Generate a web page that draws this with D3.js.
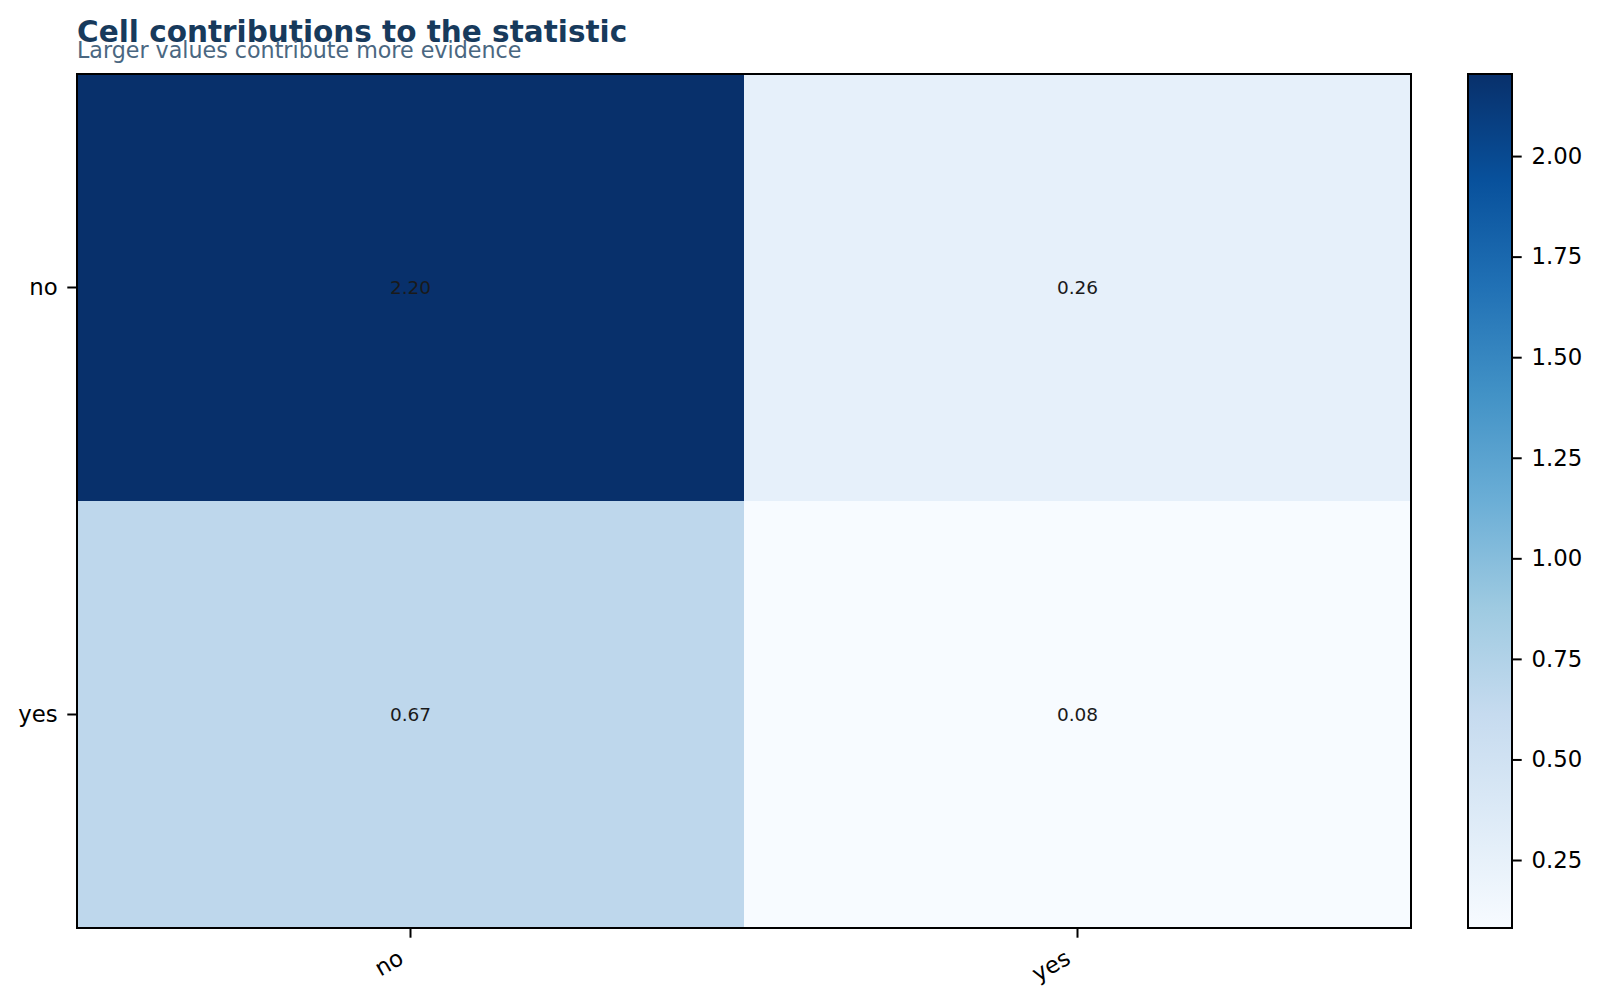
<!DOCTYPE html>
<html>
<head>
<meta charset="utf-8">
<script src="https://cdn.jsdelivr.net/npm/d3@7"></script>
<style>
  body { margin: 0; background: #fff; }
  svg { display: block; }
  text { font-family: "DejaVu Sans", sans-serif; }
</style>
</head>
<body>
<div id="chart"></div>
<script>
// data
const rowLabels = ["no", "yes"];
const colLabels = ["no", "yes"];
const cellValues = [
  [2.204, 0.262],
  [0.668, 0.081]
];
const cbarTicks = [0.25, 0.5, 0.75, 1.0, 1.25, 1.5, 1.75, 2.0];
const titleText = "Cell contributions to the statistic";
const subtitleText = "Larger values contribute more evidence";

// matplotlib "Blues" stops (ColorBrewer 9)
const bluesStops = ["#f7fbff", "#deebf7", "#c6dbef", "#9ecae1", "#6baed6",
                    "#4292c6", "#2171b5", "#08519c", "#08306b"];

const W = 1600, H = 1002;
const plot = {left: 77, right: 1411, top: 74, bottom: 928};
const cbar = {left: 1468, right: 1512};
const TICK = 9.7, PAD = 9.7;
const FS = 22.8;

let svg = d3.select("#chart").append("svg")
  .attr("width", W).attr("height", H);

let flat = [];
cellValues.forEach((row, i) => {
  row.forEach((v, j) => flat.push({row: rowLabels[i], col: colLabels[j], value: v}));
});
let vmin = d3.min(flat, d => d.value), vmax = d3.max(flat, d => d.value);

// color scale, linear between the 9 stops like matplotlib
let t = d3.scaleLinear().domain([vmin, vmax]).range([0, 1]);
let stopScale = d3.scaleLinear()
  .domain(d3.range(bluesStops.length).map(i => i / (bluesStops.length - 1)))
  .range(bluesStops)
  .interpolate(d3.interpolateRgb);
let color = v => stopScale(t(v));

let x = d3.scaleBand().domain(colLabels).range([plot.left, plot.right]).padding(0);
let y = d3.scaleBand().domain(rowLabels).range([plot.top, plot.bottom]).padding(0);

// cells
svg.append("g").selectAll("rect").data(flat).join("rect")
  .attr("x", d => x(d.col))
  .attr("y", d => y(d.row))
  .attr("width", x.bandwidth())
  .attr("height", y.bandwidth())
  .attr("fill", d => color(d.value));

// annotations
svg.append("g").selectAll("text").data(flat).join("text")
  .attr("x", d => x(d.col) + x.bandwidth() / 2)
  .attr("y", d => y(d.row) + y.bandwidth() / 2)
  .attr("text-anchor", "middle")
  .attr("dominant-baseline", "central")
  .attr("font-size", 18.5)
  .attr("fill", "#1a1a1a")
  .text(d => d3.format(".2f")(d.value));

// frame
svg.append("rect")
  .attr("x", plot.left).attr("y", plot.top)
  .attr("width", plot.right - plot.left).attr("height", plot.bottom - plot.top)
  .attr("fill", "none").attr("stroke", "#000").attr("stroke-width", 2);

// y axis
let yAxis = d3.axisLeft(y).tickSize(TICK).tickPadding(PAD);
let gy = svg.append("g").attr("transform", `translate(${plot.left},0)`).call(yAxis);
gy.select(".domain").remove();
gy.selectAll(".tick line").attr("stroke", "#000").attr("stroke-width", 2);
gy.selectAll(".tick text").attr("font-size", FS).attr("fill", "#000")
  .attr("font-family", "DejaVu Sans");

// x axis, rotated labels
let xAxis = d3.axisBottom(x).tickSize(TICK).tickPadding(PAD);
let gx = svg.append("g").attr("transform", `translate(0,${plot.bottom})`).call(xAxis);
gx.select(".domain").remove();
gx.selectAll(".tick line").attr("stroke", "#000").attr("stroke-width", 2);
gx.selectAll(".tick text").remove();
colLabels.forEach(lab => {
  let tx = x(lab) + x.bandwidth() / 2;
  let el = svg.append("text")
    .attr("font-size", FS).attr("fill", "#000")
    .attr("text-anchor", "end")
    .attr("transform", "rotate(-30)")
    .text(lab);
  let b = el.node().getBoundingClientRect();
  // right edge of rotated box near the tick, top just below tick + pad
  let dx = tx - 3 - b.right, dy = plot.bottom + TICK + PAD - 3 - b.top;
  el.attr("transform", `translate(${dx},${dy}) rotate(-30)`);
});

// colorbar
let cy = d3.scaleLinear().domain([vmin, vmax]).range([plot.bottom, plot.top]);
let grad = svg.append("defs").append("linearGradient")
  .attr("id", "cbgrad").attr("x1", 0).attr("y1", 1).attr("x2", 0).attr("y2", 0);
d3.range(0, 1.0001, 0.125).forEach(s => {
  grad.append("stop").attr("offset", s).attr("stop-color", stopScale(s));
});
svg.append("rect")
  .attr("x", cbar.left).attr("y", plot.top)
  .attr("width", cbar.right - cbar.left).attr("height", plot.bottom - plot.top)
  .attr("fill", "url(#cbgrad)")
  .attr("stroke", "#000").attr("stroke-width", 2);

let cAxis = d3.axisRight(cy).tickValues(cbarTicks).tickFormat(d3.format(".2f"))
  .tickSize(TICK).tickPadding(PAD);
let gc = svg.append("g").attr("transform", `translate(${cbar.right},0)`).call(cAxis);
gc.select(".domain").remove();
gc.selectAll(".tick line").attr("stroke", "#000").attr("stroke-width", 2);
gc.selectAll(".tick text").attr("font-size", FS).attr("fill", "#000")
  .attr("font-family", "DejaVu Sans");

// title and subtitle (they overlap a little in the original too)
svg.append("text")
  .attr("x", plot.left).attr("y", 42)
  .attr("font-size", 29.5).attr("font-weight", "bold")
  .attr("fill", "#173a5c")
  .text(titleText);
svg.append("text")
  .attr("x", plot.left).attr("y", 57.5)
  .attr("font-size", 22.2)
  .attr("fill", "#4a6781")
  .text(subtitleText);
</script>
</body>
</html>
